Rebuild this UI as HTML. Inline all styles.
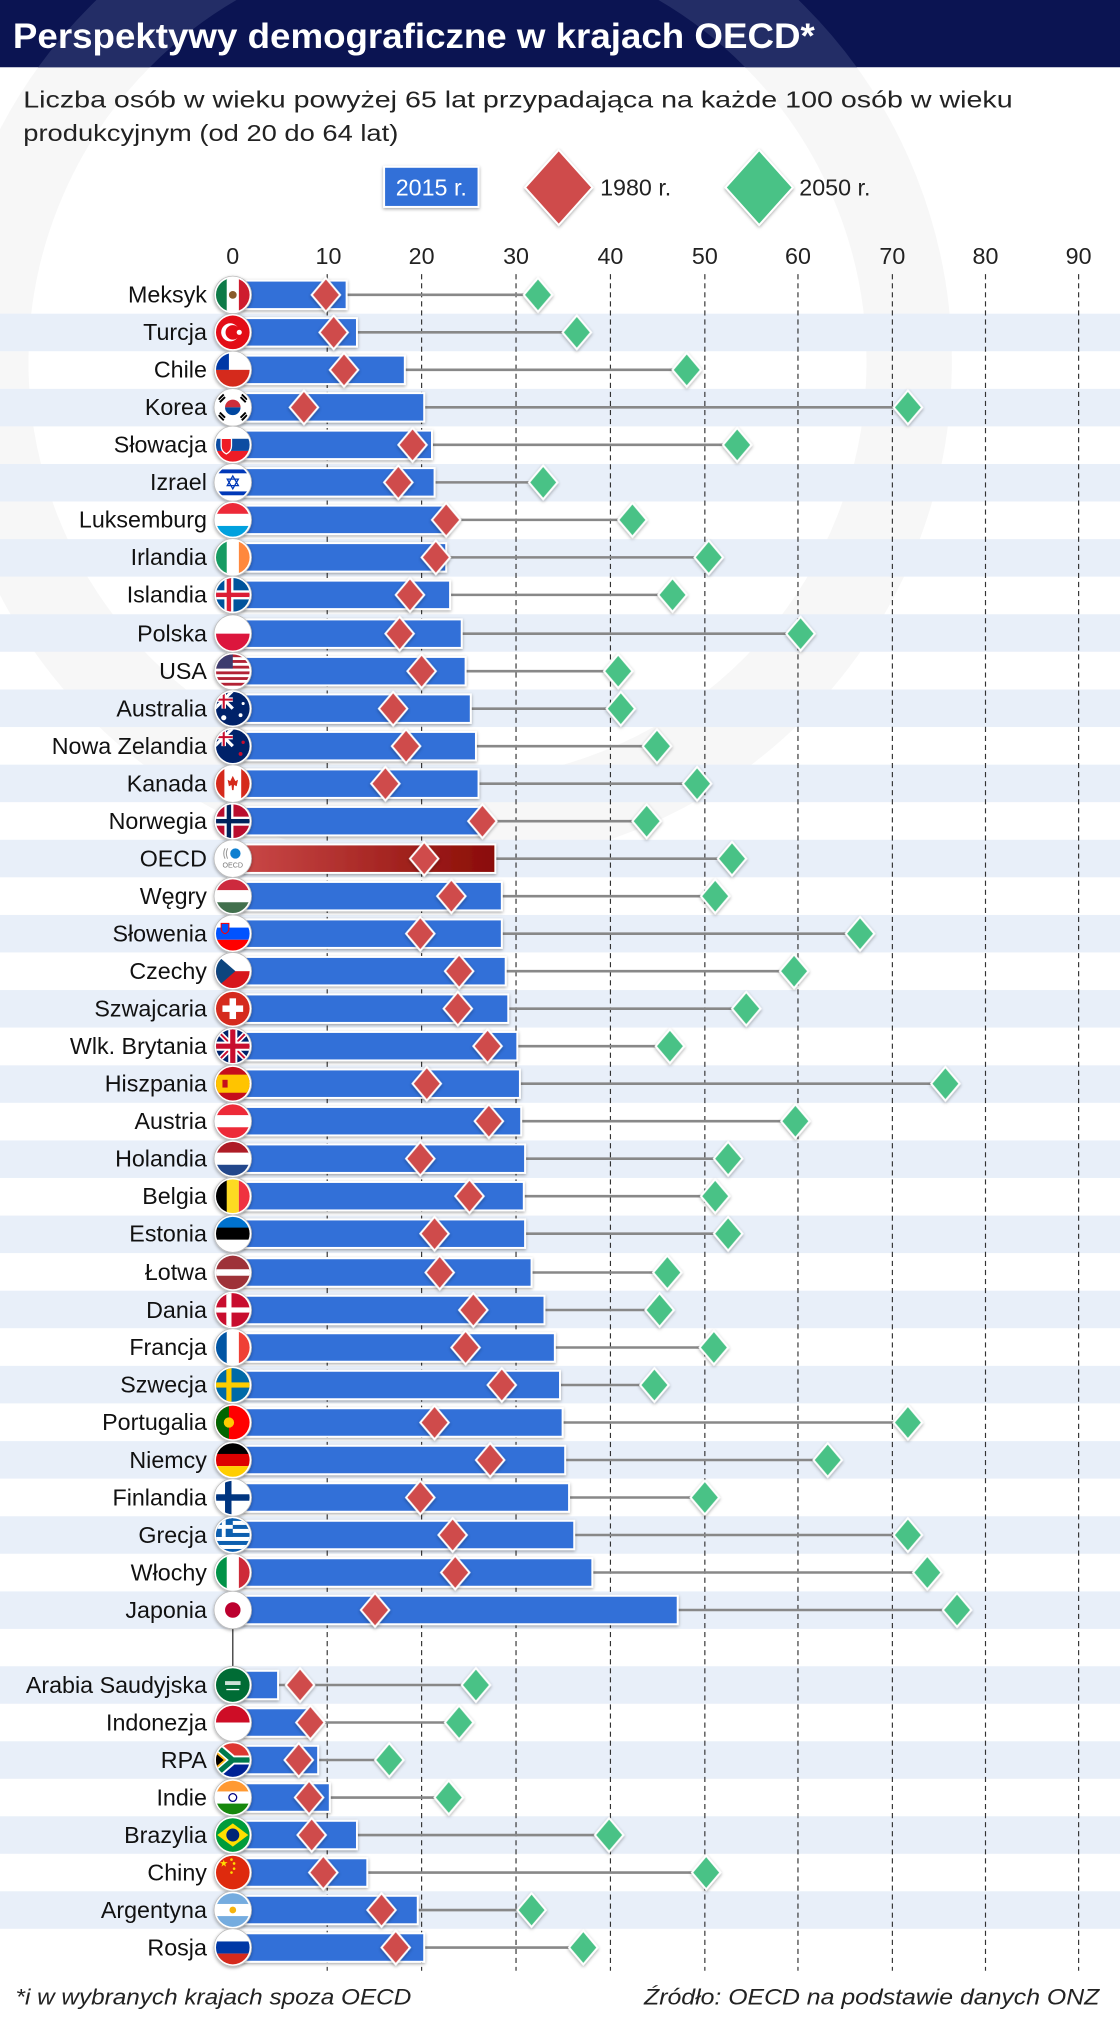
<!DOCTYPE html>
<html><head><meta charset="utf-8"><style>
html,body{margin:0;padding:0;background:#fff;}
svg{display:block;}
text{font-family:"Liberation Sans",Arial,sans-serif;}
</style></head><body>
<svg width="1120" height="2029" viewBox="0 0 866 1569" preserveAspectRatio="none" xmlns="http://www.w3.org/2000/svg">
<defs>
<clipPath id="c"><circle r="13"/></clipPath>
<clipPath id="hd"><rect x="0" y="0" width="866" height="52"/></clipPath>
<linearGradient id="og" x1="0" x2="1"><stop offset="0" stop-color="#cc4a4a"/><stop offset="1" stop-color="#8a0c06"/></linearGradient>
<path id="r" d="M0,-13 L11,0 L0,13 L-11,0Z" fill="#cf4b4b" stroke="#fff" stroke-width="1.5"/>
<path id="g" d="M0,-13 L11,0 L0,13 L-11,0Z" fill="#48c286" stroke="#fff" stroke-width="1.5"/>
<g id="ring"><circle r="14.5" fill="#fff" stroke="#bbb" stroke-width="0.6"/></g>
<g id="mx" clip-path="url(#c)"><rect x="-14" y="-14" width="10" height="28" fill="#0e7a47"/><rect x="-4.7" y="-14" width="9.4" height="28" fill="#fff"/><rect x="4.7" y="-14" width="10" height="28" fill="#ce1f2f"/><circle r="3" fill="#8a5a2a"/></g>
<g id="tr" clip-path="url(#c)"><rect x="-14" y="-14" width="28" height="28" fill="#e30a17"/><circle cx="-2" r="7" fill="#fff"/><circle cx="0" r="5.6" fill="#e30a17"/><circle cx="5" r="2" fill="#fff"/></g>
<g id="cl" clip-path="url(#c)"><rect x="-14" y="-14" width="28" height="14" fill="#fff"/><rect x="-14" y="0" width="28" height="14" fill="#d52b1e"/><rect x="-14" y="-14" width="11" height="14" fill="#0039a6"/></g>
<g id="kr" clip-path="url(#c)"><rect x="-14" y="-14" width="28" height="28" fill="#fff"/><path d="M-6,0 A6,6 0 0 1 6,0Z" fill="#cd2e3a"/><path d="M-6,0 A6,6 0 0 0 6,0Z" fill="#0047a0"/><g stroke="#000" stroke-width="1.5"><path d="M-11,-6 l4,-4 M-10,-4 l4,-4 M7,10 l4,-4 M6,8 l4,-4 M-11,6 l4,4 M-10,4 l4,4 M7,-10 l4,4 M6,-8 l4,4"/></g></g>
<g id="sk" clip-path="url(#c)"><rect x="-14" y="-14" width="28" height="10" fill="#fff"/><rect x="-14" y="-4.7" width="28" height="9.4" fill="#0b4ea2"/><rect x="-14" y="4.7" width="28" height="10" fill="#ee1c25"/><path d="M-9,-5 h8 v6 q0,4 -4,6 q-4,-2 -4,-6Z" fill="#ee1c25" stroke="#fff" stroke-width="1"/></g>
<g id="il" clip-path="url(#c)"><rect x="-14" y="-14" width="28" height="28" fill="#fff"/><rect x="-14" y="-10" width="28" height="3" fill="#0038b8"/><rect x="-14" y="7" width="28" height="3" fill="#0038b8"/><path d="M0,-5 L4.3,2.5 H-4.3Z M0,5 L4.3,-2.5 H-4.3Z" fill="none" stroke="#0038b8" stroke-width="1"/></g>
<g id="lu" clip-path="url(#c)"><rect x="-14" y="-14" width="28" height="10" fill="#ed2939"/><rect x="-14" y="-4.7" width="28" height="9.4" fill="#fff"/><rect x="-14" y="4.7" width="28" height="10" fill="#00a1de"/></g>
<g id="ie" clip-path="url(#c)"><rect x="-14" y="-14" width="10" height="28" fill="#169b62"/><rect x="-4.7" y="-14" width="9.4" height="28" fill="#fff"/><rect x="4.7" y="-14" width="10" height="28" fill="#ff883e"/></g>
<g id="is" clip-path="url(#c)"><rect x="-14" y="-14" width="28" height="28" fill="#02529c"/><rect x="-14" y="-3.5" width="28" height="7" fill="#fff"/><rect x="-6.5" y="-14" width="7" height="28" fill="#fff"/><rect x="-14" y="-1.7" width="28" height="3.4" fill="#dc1e35"/><rect x="-4.7" y="-14" width="3.4" height="28" fill="#dc1e35"/></g>
<g id="pl" clip-path="url(#c)"><rect x="-14" y="-14" width="28" height="14" fill="#fff"/><rect x="-14" y="0" width="28" height="14" fill="#dc143c"/></g>
<g id="us" clip-path="url(#c)"><rect x="-14" y="-14" width="28" height="28" fill="#fff"/><g fill="#b22234"><rect x="-14" y="-13" width="28" height="2.2"/><rect x="-14" y="-8.6" width="28" height="2.2"/><rect x="-14" y="-4.2" width="28" height="2.2"/><rect x="-14" y="0.2" width="28" height="2.2"/><rect x="-14" y="4.6" width="28" height="2.2"/><rect x="-14" y="9" width="28" height="2.2"/></g><rect x="-14" y="-14" width="14" height="12" fill="#3c3b6e"/></g>
<g id="au" clip-path="url(#c)"><rect x="-14" y="-14" width="28" height="28" fill="#012169"/><path d="M-14,-14 L0,0 M0,-14 L-14,0" stroke="#fff" stroke-width="2.5"/><path d="M-7,-14 V0 M-14,-7 H0" stroke="#fff" stroke-width="3.5"/><path d="M-7,-14 V0 M-14,-7 H0" stroke="#c8102e" stroke-width="1.6"/><circle cx="6" cy="5" r="1.5" fill="#fff"/><circle cx="-7" cy="7" r="2" fill="#fff"/><circle cx="8" cy="-4" r="1.2" fill="#fff"/></g>
<g id="nz" clip-path="url(#c)"><rect x="-14" y="-14" width="28" height="28" fill="#012169"/><path d="M-14,-14 L0,0 M0,-14 L-14,0" stroke="#fff" stroke-width="2.5"/><path d="M-7,-14 V0 M-14,-7 H0" stroke="#fff" stroke-width="3.5"/><path d="M-7,-14 V0 M-14,-7 H0" stroke="#c8102e" stroke-width="1.6"/><circle cx="6" cy="6" r="1.5" fill="#c8102e"/><circle cx="8" cy="-3" r="1.3" fill="#c8102e"/></g>
<g id="ca" clip-path="url(#c)"><rect x="-14" y="-14" width="28" height="28" fill="#fff"/><rect x="-14" y="-14" width="7.5" height="28" fill="#d52b1e"/><rect x="6.5" y="-14" width="7.5" height="28" fill="#d52b1e"/><path d="M0,-6 L2,-2 L4,-3 L3,2 L1,1 L0.6,5 h-1.2 L-1,1 L-3,2 L-4,-3 L-2,-2Z" fill="#d52b1e"/></g>
<g id="no" clip-path="url(#c)"><rect x="-14" y="-14" width="28" height="28" fill="#ba0c2f"/><rect x="-14" y="-3.5" width="28" height="7" fill="#fff"/><rect x="-6.5" y="-14" width="7" height="28" fill="#fff"/><rect x="-14" y="-1.7" width="28" height="3.4" fill="#00205b"/><rect x="-4.7" y="-14" width="3.4" height="28" fill="#00205b"/></g>
<g id="oe" clip-path="url(#c)"><rect x="-14" y="-14" width="28" height="28" fill="#fff"/><circle cx="2" cy="-4" r="4" fill="#0b7fd0"/><path d="M-4,-8 q-2,4 0,8 M-6,-8 q-2,4 0,8" stroke="#999" fill="none" stroke-width="0.8"/><text x="0" y="7" font-size="5.5" text-anchor="middle" fill="#777">OECD</text></g>
<g id="hu" clip-path="url(#c)"><rect x="-14" y="-14" width="28" height="10" fill="#cd2a3e"/><rect x="-14" y="-4.7" width="28" height="9.4" fill="#fff"/><rect x="-14" y="4.7" width="28" height="10" fill="#436f4d"/></g>
<g id="si" clip-path="url(#c)"><rect x="-14" y="-14" width="28" height="10" fill="#fff"/><rect x="-14" y="-4.7" width="28" height="9.4" fill="#0052ff"/><rect x="-14" y="4.7" width="28" height="10" fill="#ff0000"/><path d="M-9,-8 h6 v4 q0,3 -3,4 q-3,-1 -3,-4Z" fill="#0052ff" stroke="#ff0000" stroke-width="0.8"/></g>
<g id="cz" clip-path="url(#c)"><rect x="-14" y="-14" width="28" height="14" fill="#fff"/><rect x="-14" y="0" width="28" height="14" fill="#d7141a"/><path d="M-14,-14 L2,0 L-14,14Z" fill="#11457e"/></g>
<g id="ch" clip-path="url(#c)"><rect x="-14" y="-14" width="28" height="28" fill="#d52b1e"/><rect x="-2.5" y="-8" width="5" height="16" fill="#fff"/><rect x="-8" y="-2.5" width="16" height="5" fill="#fff"/></g>
<g id="gb" clip-path="url(#c)"><rect x="-14" y="-14" width="28" height="28" fill="#012169"/><path d="M-14,-14 L14,14 M14,-14 L-14,14" stroke="#fff" stroke-width="4"/><path d="M-14,-14 L14,14 M14,-14 L-14,14" stroke="#c8102e" stroke-width="1.5"/><path d="M0,-14 V14 M-14,0 H14" stroke="#fff" stroke-width="7"/><path d="M0,-14 V14 M-14,0 H14" stroke="#c8102e" stroke-width="4"/></g>
<g id="es" clip-path="url(#c)"><rect x="-14" y="-14" width="28" height="28" fill="#c60b1e"/><rect x="-14" y="-7" width="28" height="14" fill="#ffc400"/><rect x="-8" y="-3" width="4" height="6" fill="#c60b1e"/></g>
<g id="at" clip-path="url(#c)"><rect x="-14" y="-14" width="28" height="10" fill="#ed2939"/><rect x="-14" y="-4.7" width="28" height="9.4" fill="#fff"/><rect x="-14" y="4.7" width="28" height="10" fill="#ed2939"/></g>
<g id="nl" clip-path="url(#c)"><rect x="-14" y="-14" width="28" height="10" fill="#ae1c28"/><rect x="-14" y="-4.7" width="28" height="9.4" fill="#fff"/><rect x="-14" y="4.7" width="28" height="10" fill="#21468b"/></g>
<g id="be" clip-path="url(#c)"><rect x="-14" y="-14" width="10" height="28" fill="#000"/><rect x="-4.7" y="-14" width="9.4" height="28" fill="#fdda24"/><rect x="4.7" y="-14" width="10" height="28" fill="#ef3340"/></g>
<g id="ee" clip-path="url(#c)"><rect x="-14" y="-14" width="28" height="10" fill="#0072ce"/><rect x="-14" y="-4.7" width="28" height="9.4" fill="#000"/><rect x="-14" y="4.7" width="28" height="10" fill="#fff"/></g>
<g id="lv" clip-path="url(#c)"><rect x="-14" y="-14" width="28" height="28" fill="#9e3039"/><rect x="-14" y="-2.5" width="28" height="5" fill="#fff"/></g>
<g id="dk" clip-path="url(#c)"><rect x="-14" y="-14" width="28" height="28" fill="#c8102e"/><rect x="-14" y="-2" width="28" height="4" fill="#fff"/><rect x="-5" y="-14" width="4" height="28" fill="#fff"/></g>
<g id="fr" clip-path="url(#c)"><rect x="-14" y="-14" width="10" height="28" fill="#0055a4"/><rect x="-4.7" y="-14" width="9.4" height="28" fill="#fff"/><rect x="4.7" y="-14" width="10" height="28" fill="#ef4135"/></g>
<g id="se" clip-path="url(#c)"><rect x="-14" y="-14" width="28" height="28" fill="#006aa7"/><rect x="-14" y="-2" width="28" height="4" fill="#fecc00"/><rect x="-5" y="-14" width="4" height="28" fill="#fecc00"/></g>
<g id="pt" clip-path="url(#c)"><rect x="-14" y="-14" width="28" height="28" fill="#ff0000"/><rect x="-14" y="-14" width="11" height="28" fill="#006600"/><circle cx="-3" r="4" fill="#ffcc00"/></g>
<g id="de" clip-path="url(#c)"><rect x="-14" y="-14" width="28" height="10" fill="#000"/><rect x="-14" y="-4.7" width="28" height="9.4" fill="#dd0000"/><rect x="-14" y="4.7" width="28" height="10" fill="#ffce00"/></g>
<g id="fi" clip-path="url(#c)"><rect x="-14" y="-14" width="28" height="28" fill="#fff"/><rect x="-14" y="-2.5" width="28" height="5" fill="#003580"/><rect x="-6" y="-14" width="5" height="28" fill="#003580"/></g>
<g id="gr" clip-path="url(#c)"><rect x="-14" y="-14" width="28" height="28" fill="#0d5eaf"/><g fill="#fff"><rect x="-14" y="-10.9" width="28" height="3.1"/><rect x="-14" y="-4.7" width="28" height="3.1"/><rect x="-14" y="1.5" width="28" height="3.1"/><rect x="-14" y="7.7" width="28" height="3.1"/></g><rect x="-14" y="-14" width="14" height="15.5" fill="#0d5eaf"/><rect x="-14" y="-7.8" width="14" height="3" fill="#fff"/><rect x="-8.5" y="-14" width="3" height="15.5" fill="#fff"/></g>
<g id="it" clip-path="url(#c)"><rect x="-14" y="-14" width="10" height="28" fill="#009246"/><rect x="-4.7" y="-14" width="9.4" height="28" fill="#fff"/><rect x="4.7" y="-14" width="10" height="28" fill="#ce2b37"/></g>
<g id="jp" clip-path="url(#c)"><rect x="-14" y="-14" width="28" height="28" fill="#fff"/><circle r="6" fill="#bc002d"/></g>
<g id="sa" clip-path="url(#c)"><rect x="-14" y="-14" width="28" height="28" fill="#006c35"/><rect x="-6" y="-3" width="12" height="3" fill="#fff" opacity="0.8"/><rect x="-5" y="3" width="10" height="1" fill="#fff"/></g>
<g id="id" clip-path="url(#c)"><rect x="-14" y="-14" width="28" height="14" fill="#ce1126"/><rect x="-14" y="0" width="28" height="14" fill="#fff"/></g>
<g id="za" clip-path="url(#c)"><rect x="-14" y="-14" width="28" height="14" fill="#de3831"/><rect x="-14" y="0" width="28" height="14" fill="#002395"/><path d="M-14,-12 L0,0 L-14,12 M0,0 H14" stroke="#fff" stroke-width="7" fill="none"/><path d="M-14,-12 L0,0 L-14,12 M0,0 H14" stroke="#007a4d" stroke-width="4" fill="none"/><path d="M-14,-8 L-5,0 L-14,8Z" fill="#ffb612"/><path d="M-14,-6 L-7,0 L-14,6Z" fill="#000"/></g>
<g id="in" clip-path="url(#c)"><rect x="-14" y="-14" width="28" height="10" fill="#ff9933"/><rect x="-14" y="-4.7" width="28" height="9.4" fill="#fff"/><rect x="-14" y="4.7" width="28" height="10" fill="#138808"/><circle r="3" fill="none" stroke="#000080" stroke-width="1"/></g>
<g id="br" clip-path="url(#c)"><rect x="-14" y="-14" width="28" height="28" fill="#009c3b"/><path d="M-12,0 L0,-9 L12,0 L0,9Z" fill="#ffdf00"/><circle r="5" fill="#002776"/></g>
<g id="cn" clip-path="url(#c)"><rect x="-14" y="-14" width="28" height="28" fill="#de2910"/><path d="M-7,-10 L-5.2,-4.6 L-10,-8 H-4 L-8.8,-4.6Z" fill="#ffde00"/><circle cx="-1" cy="-10" r="1" fill="#ffde00"/><circle cx="1" cy="-7" r="1" fill="#ffde00"/><circle cx="1" cy="-3" r="1" fill="#ffde00"/><circle cx="-1" cy="0" r="1" fill="#ffde00"/></g>
<g id="ar" clip-path="url(#c)"><rect x="-14" y="-14" width="28" height="10" fill="#74acdf"/><rect x="-14" y="-4.7" width="28" height="9.4" fill="#fff"/><rect x="-14" y="4.7" width="28" height="10" fill="#74acdf"/><circle r="2.6" fill="#f6b40e"/></g>
<g id="ru" clip-path="url(#c)"><rect x="-14" y="-14" width="28" height="10" fill="#fff"/><rect x="-14" y="-4.7" width="28" height="9.4" fill="#0039a6"/><rect x="-14" y="4.7" width="28" height="10" fill="#d52b1e"/></g>
<filter id="sh" x="-20%" y="-40%" width="140%" height="180%"><feDropShadow dx="0" dy="1" stdDeviation="1.3" flood-color="#000" flood-opacity="0.35"/></filter>
</defs>

<rect width="866" height="1569" fill="#fff"/>
<circle cx="346" cy="280" r="357" fill="none" stroke="#f7f7f7" stroke-width="66"/>
<rect x="0" y="0" width="866" height="52" fill="#0b1452"/>
<g clip-path="url(#hd)"><circle cx="346" cy="280" r="357" fill="none" stroke="#232d66" stroke-width="66"/></g>
<text x="10" y="37" font-size="27" font-weight="bold" fill="#fff" textLength="620" lengthAdjust="spacingAndGlyphs">Perspektywy demograficzne w krajach OECD*</text>

<text x="18" y="83" font-size="18" fill="#222" textLength="765" lengthAdjust="spacingAndGlyphs">Liczba osób w wieku powyżej 65 lat przypadająca na każde 100 osób w wieku</text>
<text x="18" y="109" font-size="18" fill="#222" textLength="290" lengthAdjust="spacingAndGlyphs">produkcyjnym (od 20 do 64 lat)</text>

<rect x="297" y="129" width="73" height="31" fill="#3370d8" stroke="#fff" stroke-width="1.5" filter="url(#sh)"/>
<text x="333.5" y="151" font-size="18" fill="#fff" text-anchor="middle">2015 r.</text>
<path d="M432,116 L458,145 L432,174 L406,145Z" fill="#cf4b4b" stroke="#fff" stroke-width="1.5" filter="url(#sh)"/>
<text x="464" y="151" font-size="18" fill="#222">1980 r.</text>
<path d="M587,116 L613,145 L587,174 L561,145Z" fill="#48c286" stroke="#fff" stroke-width="1.5" filter="url(#sh)"/>
<text x="618" y="151" font-size="18" fill="#222">2050 r.</text>

<g fill="#e8eff9">
<rect x="0" y="242.6" width="866" height="29"/><rect x="0" y="300.7" width="866" height="29"/><rect x="0" y="358.8" width="866" height="29"/><rect x="0" y="416.9" width="866" height="29"/><rect x="0" y="475" width="866" height="29"/><rect x="0" y="533.2" width="866" height="29"/><rect x="0" y="591.3" width="866" height="29"/><rect x="0" y="649.4" width="866" height="29"/><rect x="0" y="707.5" width="866" height="29"/><rect x="0" y="765.6" width="866" height="29"/><rect x="0" y="823.8" width="866" height="29"/><rect x="0" y="881.9" width="866" height="29"/><rect x="0" y="940" width="866" height="29"/><rect x="0" y="998.1" width="866" height="29"/><rect x="0" y="1056.2" width="866" height="29"/><rect x="0" y="1114.4" width="866" height="29"/><rect x="0" y="1172.5" width="866" height="29"/><rect x="0" y="1230.6" width="866" height="29"/>
<rect x="0" y="1288.5" width="866" height="29"/><rect x="0" y="1346.5" width="866" height="29"/><rect x="0" y="1404.5" width="866" height="29"/><rect x="0" y="1462.5" width="866" height="29"/>
</g>

<g font-size="18" fill="#222" text-anchor="middle">
<text x="180" y="204">0</text><text x="254" y="204">10</text><text x="326" y="204">20</text><text x="399" y="204">30</text><text x="472" y="204">40</text><text x="545" y="204">50</text><text x="617" y="204">60</text><text x="690" y="204">70</text><text x="762" y="204">80</text><text x="834" y="204">90</text>
</g>
<g stroke="#333" stroke-width="0.9" stroke-dasharray="4,3">
<path d="M253,212V1524 M326,212V1524 M399,212V1524 M472,212V1524 M545,212V1524 M617,212V1524 M690,212V1524 M762,212V1524 M834,212V1524"/>
</g>
<path d="M180,1245V1303" stroke="#333" stroke-width="1"/>

<g stroke="#888" stroke-width="2">
<path d="M268,228H416 M276,257H446 M313,286H531 M328,315H702 M334,344H570 M336,373H420 M346,402H489 M345,431H548 M348,460H520 M357,490H619 M360,519H478 M364,548H480 M368,577H508 M370,606H539 M372,635H500 M383,664H566 M388,693H553 M388,722H665 M391,751H614 M393,780H577 M400,809H518 M402,838H731 M403,867H615 M406,896H563 M405,925H553 M406,954H563 M411,984H516 M421,1013H510 M429,1042H552 M433,1071H506 M435,1100H702 M437,1129H640 M440,1158H545 M444,1187H702 M458,1216H717 M524,1245H740"/>
<path d="M215,1303H368 M240,1332H355 M246,1361H301 M255,1390H347 M276,1419H471 M284,1448H546 M323,1477H411 M328,1506H451"/>
</g>

<g fill="#3370d8" stroke="#fff" stroke-width="1.5" filter="url(#sh)">
<rect x="180" y="217" width="88" height="22"/><rect x="180" y="246" width="96" height="22"/><rect x="180" y="275" width="133" height="22"/><rect x="180" y="304" width="148" height="22"/><rect x="180" y="333" width="154" height="22"/><rect x="180" y="362" width="156" height="22"/><rect x="180" y="391" width="166" height="22"/><rect x="180" y="420" width="165" height="22"/><rect x="180" y="449" width="168" height="22"/><rect x="180" y="479" width="177" height="22"/><rect x="180" y="508" width="180" height="22"/><rect x="180" y="537" width="184" height="22"/><rect x="180" y="566" width="188" height="22"/><rect x="180" y="595" width="190" height="22"/><rect x="180" y="624" width="192" height="22"/>
<rect x="180" y="653" width="203" height="22" fill="url(#og)"/>
<rect x="180" y="682" width="208" height="22"/><rect x="180" y="711" width="208" height="22"/><rect x="180" y="740" width="211" height="22"/><rect x="180" y="769" width="213" height="22"/><rect x="180" y="798" width="220" height="22"/><rect x="180" y="827" width="222" height="22"/><rect x="180" y="856" width="223" height="22"/><rect x="180" y="885" width="226" height="22"/><rect x="180" y="914" width="225" height="22"/><rect x="180" y="943" width="226" height="22"/><rect x="180" y="973" width="231" height="22"/><rect x="180" y="1002" width="241" height="22"/><rect x="180" y="1031" width="249" height="22"/><rect x="180" y="1060" width="253" height="22"/><rect x="180" y="1089" width="255" height="22"/><rect x="180" y="1118" width="257" height="22"/><rect x="180" y="1147" width="260" height="22"/><rect x="180" y="1176" width="264" height="22"/><rect x="180" y="1205" width="278" height="22"/><rect x="180" y="1234" width="344" height="22"/>
<rect x="180" y="1292" width="35" height="22"/><rect x="180" y="1321" width="60" height="22"/><rect x="180" y="1350" width="66" height="22"/><rect x="180" y="1379" width="75" height="22"/><rect x="180" y="1408" width="96" height="22"/><rect x="180" y="1437" width="104" height="22"/><rect x="180" y="1466" width="143" height="22"/><rect x="180" y="1495" width="148" height="22"/>
</g>

<g filter="url(#sh)">
<use href="#r" x="252" y="228"/><use href="#r" x="258" y="257"/><use href="#r" x="266" y="286"/><use href="#r" x="235" y="315"/><use href="#r" x="319" y="344"/><use href="#r" x="308" y="373"/><use href="#r" x="345" y="402"/><use href="#r" x="337" y="431"/><use href="#r" x="317" y="460"/><use href="#r" x="309" y="490"/><use href="#r" x="326" y="519"/><use href="#r" x="304" y="548"/><use href="#r" x="314" y="577"/><use href="#r" x="298" y="606"/><use href="#r" x="373" y="635"/><use href="#r" x="328" y="664"/><use href="#r" x="349" y="693"/><use href="#r" x="325" y="722"/><use href="#r" x="355" y="751"/><use href="#r" x="354" y="780"/><use href="#r" x="377" y="809"/><use href="#r" x="330" y="838"/><use href="#r" x="378" y="867"/><use href="#r" x="325" y="896"/><use href="#r" x="363" y="925"/><use href="#r" x="336" y="954"/><use href="#r" x="340" y="984"/><use href="#r" x="366" y="1013"/><use href="#r" x="360" y="1042"/><use href="#r" x="388" y="1071"/><use href="#r" x="336" y="1100"/><use href="#r" x="379" y="1129"/><use href="#r" x="325" y="1158"/><use href="#r" x="350" y="1187"/><use href="#r" x="352" y="1216"/><use href="#r" x="290" y="1245"/>
<use href="#r" x="232" y="1303"/><use href="#r" x="240" y="1332"/><use href="#r" x="231" y="1361"/><use href="#r" x="239" y="1390"/><use href="#r" x="241" y="1419"/><use href="#r" x="250" y="1448"/><use href="#r" x="295" y="1477"/><use href="#r" x="306" y="1506"/>
<use href="#g" x="416" y="228"/><use href="#g" x="446" y="257"/><use href="#g" x="531" y="286"/><use href="#g" x="702" y="315"/><use href="#g" x="570" y="344"/><use href="#g" x="420" y="373"/><use href="#g" x="489" y="402"/><use href="#g" x="548" y="431"/><use href="#g" x="520" y="460"/><use href="#g" x="619" y="490"/><use href="#g" x="478" y="519"/><use href="#g" x="480" y="548"/><use href="#g" x="508" y="577"/><use href="#g" x="539" y="606"/><use href="#g" x="500" y="635"/><use href="#g" x="566" y="664"/><use href="#g" x="553" y="693"/><use href="#g" x="665" y="722"/><use href="#g" x="614" y="751"/><use href="#g" x="577" y="780"/><use href="#g" x="518" y="809"/><use href="#g" x="731" y="838"/><use href="#g" x="615" y="867"/><use href="#g" x="563" y="896"/><use href="#g" x="553" y="925"/><use href="#g" x="563" y="954"/><use href="#g" x="516" y="984"/><use href="#g" x="510" y="1013"/><use href="#g" x="552" y="1042"/><use href="#g" x="506" y="1071"/><use href="#g" x="702" y="1100"/><use href="#g" x="640" y="1129"/><use href="#g" x="545" y="1158"/><use href="#g" x="702" y="1187"/><use href="#g" x="717" y="1216"/><use href="#g" x="740" y="1245"/>
<use href="#g" x="368" y="1303"/><use href="#g" x="355" y="1332"/><use href="#g" x="301" y="1361"/><use href="#g" x="347" y="1390"/><use href="#g" x="471" y="1419"/><use href="#g" x="546" y="1448"/><use href="#g" x="411" y="1477"/><use href="#g" x="451" y="1506"/>
</g>

<g filter="url(#sh)">
<g transform="translate(180,228)"><use href="#ring"/><use href="#mx"/></g>
<g transform="translate(180,257)"><use href="#ring"/><use href="#tr"/></g>
<g transform="translate(180,286)"><use href="#ring"/><use href="#cl"/></g>
<g transform="translate(180,315)"><use href="#ring"/><use href="#kr"/></g>
<g transform="translate(180,344)"><use href="#ring"/><use href="#sk"/></g>
<g transform="translate(180,373)"><use href="#ring"/><use href="#il"/></g>
<g transform="translate(180,402)"><use href="#ring"/><use href="#lu"/></g>
<g transform="translate(180,431)"><use href="#ring"/><use href="#ie"/></g>
<g transform="translate(180,460)"><use href="#ring"/><use href="#is"/></g>
<g transform="translate(180,490)"><use href="#ring"/><use href="#pl"/></g>
<g transform="translate(180,519)"><use href="#ring"/><use href="#us"/></g>
<g transform="translate(180,548)"><use href="#ring"/><use href="#au"/></g>
<g transform="translate(180,577)"><use href="#ring"/><use href="#nz"/></g>
<g transform="translate(180,606)"><use href="#ring"/><use href="#ca"/></g>
<g transform="translate(180,635)"><use href="#ring"/><use href="#no"/></g>
<g transform="translate(180,664)"><use href="#ring"/><use href="#oe"/></g>
<g transform="translate(180,693)"><use href="#ring"/><use href="#hu"/></g>
<g transform="translate(180,722)"><use href="#ring"/><use href="#si"/></g>
<g transform="translate(180,751)"><use href="#ring"/><use href="#cz"/></g>
<g transform="translate(180,780)"><use href="#ring"/><use href="#ch"/></g>
<g transform="translate(180,809)"><use href="#ring"/><use href="#gb"/></g>
<g transform="translate(180,838)"><use href="#ring"/><use href="#es"/></g>
<g transform="translate(180,867)"><use href="#ring"/><use href="#at"/></g>
<g transform="translate(180,896)"><use href="#ring"/><use href="#nl"/></g>
<g transform="translate(180,925)"><use href="#ring"/><use href="#be"/></g>
<g transform="translate(180,954)"><use href="#ring"/><use href="#ee"/></g>
<g transform="translate(180,984)"><use href="#ring"/><use href="#lv"/></g>
<g transform="translate(180,1013)"><use href="#ring"/><use href="#dk"/></g>
<g transform="translate(180,1042)"><use href="#ring"/><use href="#fr"/></g>
<g transform="translate(180,1071)"><use href="#ring"/><use href="#se"/></g>
<g transform="translate(180,1100)"><use href="#ring"/><use href="#pt"/></g>
<g transform="translate(180,1129)"><use href="#ring"/><use href="#de"/></g>
<g transform="translate(180,1158)"><use href="#ring"/><use href="#fi"/></g>
<g transform="translate(180,1187)"><use href="#ring"/><use href="#gr"/></g>
<g transform="translate(180,1216)"><use href="#ring"/><use href="#it"/></g>
<g transform="translate(180,1245)"><use href="#ring"/><use href="#jp"/></g>
<g transform="translate(180,1303)"><use href="#ring"/><use href="#sa"/></g>
<g transform="translate(180,1332)"><use href="#ring"/><use href="#id"/></g>
<g transform="translate(180,1361)"><use href="#ring"/><use href="#za"/></g>
<g transform="translate(180,1390)"><use href="#ring"/><use href="#in"/></g>
<g transform="translate(180,1419)"><use href="#ring"/><use href="#br"/></g>
<g transform="translate(180,1448)"><use href="#ring"/><use href="#cn"/></g>
<g transform="translate(180,1477)"><use href="#ring"/><use href="#ar"/></g>
<g transform="translate(180,1506)"><use href="#ring"/><use href="#ru"/></g>
</g>

<g font-size="18" fill="#111" text-anchor="end">
<text x="160" y="234">Meksyk</text><text x="160" y="263">Turcja</text><text x="160" y="292">Chile</text><text x="160" y="321">Korea</text><text x="160" y="350">Słowacja</text><text x="160" y="379">Izrael</text><text x="160" y="408">Luksemburg</text><text x="160" y="437">Irlandia</text><text x="160" y="466">Islandia</text><text x="160" y="496">Polska</text><text x="160" y="525">USA</text><text x="160" y="554">Australia</text><text x="160" y="583">Nowa Zelandia</text><text x="160" y="612">Kanada</text><text x="160" y="641">Norwegia</text><text x="160" y="670">OECD</text><text x="160" y="699">Węgry</text><text x="160" y="728">Słowenia</text><text x="160" y="757">Czechy</text><text x="160" y="786">Szwajcaria</text><text x="160" y="815">Wlk. Brytania</text><text x="160" y="844">Hiszpania</text><text x="160" y="873">Austria</text><text x="160" y="902">Holandia</text><text x="160" y="931">Belgia</text><text x="160" y="960">Estonia</text><text x="160" y="990">Łotwa</text><text x="160" y="1019">Dania</text><text x="160" y="1048">Francja</text><text x="160" y="1077">Szwecja</text><text x="160" y="1106">Portugalia</text><text x="160" y="1135">Niemcy</text><text x="160" y="1164">Finlandia</text><text x="160" y="1193">Grecja</text><text x="160" y="1222">Włochy</text><text x="160" y="1251">Japonia</text>
<text x="160" y="1309">Arabia Saudyjska</text><text x="160" y="1338">Indonezja</text><text x="160" y="1367">RPA</text><text x="160" y="1396">Indie</text><text x="160" y="1425">Brazylia</text><text x="160" y="1454">Chiny</text><text x="160" y="1483">Argentyna</text><text x="160" y="1512">Rosja</text>
</g>

<text x="12" y="1550" font-size="17" font-style="italic" fill="#222" textLength="306" lengthAdjust="spacingAndGlyphs">*i w wybranych krajach spoza OECD</text>
<text x="850" y="1550" font-size="17" font-style="italic" fill="#222" text-anchor="end" textLength="352" lengthAdjust="spacingAndGlyphs">Źródło: OECD na podstawie danych ONZ</text>
</svg>
</body></html>
